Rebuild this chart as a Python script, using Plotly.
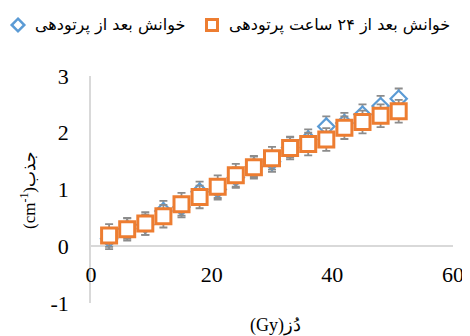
import plotly.graph_objects as go

dose = [3, 6, 9, 12, 15, 18, 21, 24, 27, 30, 33, 36, 39, 42, 45, 48, 51]
read_after = [0.13, 0.31, 0.38, 0.62, 0.69, 0.96, 1.00, 1.21, 1.40, 1.49, 1.74, 1.88, 2.11, 2.17, 2.32, 2.47, 2.60]
read_after_err = [0.18] * 17
read_24h = [0.19, 0.30, 0.40, 0.53, 0.74, 0.87, 1.05, 1.25, 1.39, 1.55, 1.73, 1.80, 1.88, 2.09, 2.19, 2.30, 2.38]
read_24h_err = [0.2] * 17

name_after = "خوانش بعد از پرتودهی"
name_24h = "خوانش بعد از ۲۴ ساعت پرتودهی"

x_ticks = [0, 20, 40, 60]
y_ticks = [-1, 0, 1, 2, 3]
y_tick_labels = ["-1", "0", "1", "2", "3"]

x_title = "(Gy)دُز"
y_title = "(cm<sup>-1</sup>)جذب"

BLUE = "#5B9BD5"
ORANGE = "#ED7D31"
serif = "Liberation Serif, Times New Roman, DejaVu Serif, serif"

# figure geometry (pixels)
W, H = 462, 328
L, R, T, B = 83, 17, 68, 33
PW, PH = W - L - R, H - T - B


def px(xp):
    return (xp - L) / PW


def py(yp):
    return (H - B - yp) / PH


fig = go.Figure()
fig.add_trace(go.Scatter(
    x=dose, y=read_after, mode="markers", name=name_after,
    marker=dict(symbol="diamond", size=12.5, color="white",
                line=dict(color=BLUE, width=2.2)),
    error_y=dict(type="data", array=read_after_err, color="#8C8C8C",
                 thickness=1.8, width=4),
))
fig.add_trace(go.Scatter(
    x=dose, y=read_24h, mode="markers", name=name_24h,
    marker=dict(symbol="square", size=15, color="white",
                line=dict(color=ORANGE, width=3)),
    error_y=dict(type="data", array=read_24h_err, color="#8C8C8C",
                 thickness=1.8, width=4),
))

# legend keys (drawn as shapes so the row matches the reference exactly)
lg_y = 17
d_cx, d_r = 10, 6.3
s_cx, s_r = 204, 5.5
diamond_path = "M {a},{b} L {c},{d} L {a},{e} L {f},{d} Z".format(
    a=px(d_cx), b=py(lg_y - d_r), c=px(d_cx + d_r), d=py(lg_y),
    e=py(lg_y + d_r), f=px(d_cx - d_r))
shapes = [
    dict(type="path", xref="paper", yref="paper", path=diamond_path,
         line=dict(color=BLUE, width=2.5), fillcolor="white", layer="above"),
    dict(type="rect", xref="paper", yref="paper",
         x0=px(s_cx - s_r), x1=px(s_cx + s_r),
         y0=py(lg_y + s_r), y1=py(lg_y - s_r),
         line=dict(color=ORANGE, width=3), fillcolor="white", layer="above"),
]

legend_font = dict(family="DejaVu Sans", size=16, color="#000000")
annotations = [
    dict(text=name_after, xref="paper", yref="paper", x=px(25), y=py(lg_y),
         xanchor="left", yanchor="middle", showarrow=False, font=legend_font),
    dict(text=name_24h, xref="paper", yref="paper", x=px(219), y=py(lg_y),
         xanchor="left", yanchor="middle", showarrow=False, font=legend_font),
    dict(text=y_title, xref="paper", yref="paper", x=px(20), y=py(182),
         xanchor="center", yanchor="middle", textangle=-90,
         showarrow=False, font=dict(family=serif, size=17)),
    dict(text=x_title, xref="paper", yref="paper", x=px(267), y=py(317),
         xanchor="center", yanchor="middle",
         showarrow=False, font=dict(family=serif, size=18)),
]

fig.update_layout(
    width=W, height=H,
    margin=dict(l=L, r=R, t=T, b=B, autoexpand=False),
    paper_bgcolor="white", plot_bgcolor="white",
    font=dict(family=serif, size=22, color="#000000"),
    showlegend=False,
    shapes=shapes,
    annotations=annotations,
)
fig.update_xaxes(
    range=[0, 60], tickvals=x_ticks, showgrid=False, zeroline=False,
    showline=False, ticks="", anchor="free", position=0.195,
    ticklabeloverflow="allow", automargin=False,
)
fig.update_yaxes(
    range=[-1, 3], tickvals=y_ticks, ticktext=y_tick_labels, showgrid=False,
    zeroline=True, zerolinecolor="#D9D9D9", zerolinewidth=1.5,
    showline=True, linecolor="#D9D9D9", linewidth=1.5,
    ticks="outside", ticklen=16, tickcolor="rgba(0,0,0,0)",
    automargin=False,
)

fig.write_html("out.html")
